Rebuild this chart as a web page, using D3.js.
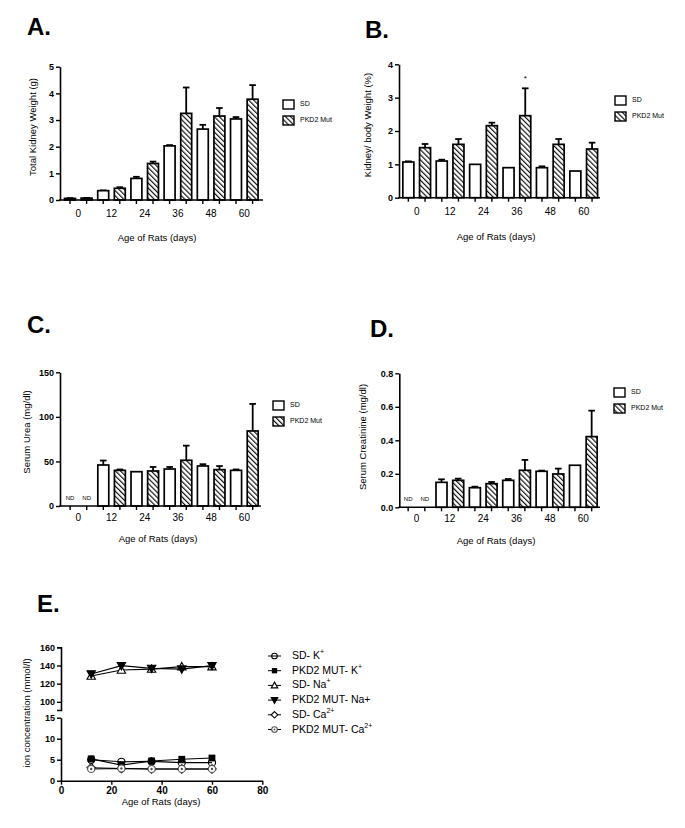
<!DOCTYPE html>
<html><head><meta charset="utf-8">
<script src="https://cdn.jsdelivr.net/npm/d3@7"></script>
<style>
body{margin:0;background:#fff;}
svg{display:block;font-family:"Liberation Sans",Arial,Helvetica,sans-serif;}
</style></head>
<body><svg id="c" width="685" height="828"></svg>
<script>
// ---------- DATA ----------
const ages = ["0","12","24","36","48","60"];
const seriesNames = ["SD","PKD2 Mut"];

const kidneySD      = [0.06, 0.35, 0.81, 2.03, 2.66, 3.04];
const kidneySDErr   = [0.01, 0.01, 0.06, 0.03, 0.16, 0.07];
const kidneyPKD     = [0.07, 0.44, 1.37, 3.25, 3.15, 3.78];
const kidneyPKDErr  = [0.01, 0.04, 0.07, 0.97, 0.30, 0.53];

const ratioSD       = [1.07, 1.10, 1.00, 0.90, 0.90, 0.80];
const ratioSDErr    = [0.02, 0.04, 0.00, 0.00, 0.04, 0.00];
const ratioPKD      = [1.50, 1.60, 2.16, 2.46, 1.60, 1.46];
const ratioPKDErr   = [0.11, 0.16, 0.09, 0.82, 0.16, 0.19];

const ureaSD        = [null, 46.0, 38.5, 41.5, 44.9, 40.0];
const ureaSDErr     = [null, 5.0, 0.0, 2.3, 2.0, 1.0];
const ureaPKD       = [null, 40.0, 39.3, 51.3, 40.8, 84.2];
const ureaPKDErr    = [null, 1.0, 4.5, 16.4, 4.0, 30.3];

const creatSD       = [null, 0.149, 0.117, 0.161, 0.215, 0.251];
const creatSDErr    = [null, 0.018, 0.006, 0.008, 0.004, 0.000];
const creatPKD      = [null, 0.161, 0.141, 0.221, 0.199, 0.422];
const creatPKDErr   = [null, 0.010, 0.010, 0.062, 0.032, 0.155];

const ionAges = [12, 24, 36, 48, 60];
const sdK    = [5.0, 4.5, 4.6, 4.3, 4.3];
const pkdK   = [5.2, 3.7, 4.7, 5.1, 5.4];
const sdNa   = [128.4, 135.0, 136.0, 138.7, 138.7];
const pkdNa  = [130.6, 139.8, 136.8, 136.0, 139.8];
const sdCa   = [3.1, 2.9, 2.8, 2.8, 2.8];
const pkdCa  = [2.8, 2.9, 2.8, 2.8, 2.8];

const ionLabels = [
  ["SD- K", "+"],
  ["PKD2 MUT- K", "+"],
  ["SD- Na", "+"],
  ["PKD2 MUT- Na+", ""],
  ["SD- Ca", "2+"],
  ["PKD2 MUT- Ca", "2+"]
];

// ---------- DRAW ----------
const svg = d3.select("#c");
const defs = svg.append("defs");
const pat = defs.append("pattern").attr("id","hatch").attr("patternUnits","userSpaceOnUse")
  .attr("width",3.6).attr("height",10).attr("patternTransform","rotate(-45)");
pat.append("rect").attr("width",3.6).attr("height",10).attr("fill","#fff");
pat.append("line").attr("x1",0.6).attr("y1",0).attr("x2",0.6).attr("y2",10)
  .attr("stroke","#000").attr("stroke-width",1.1);

function styleAxis(g, fs, bold){
  g.select(".domain").attr("stroke","#000").attr("stroke-width",1.6);
  g.selectAll(".tick line").attr("stroke","#000").attr("stroke-width",1.4);
  g.selectAll(".tick text").attr("fill","#000").style("font-size",fs+"px")
   .style("font-weight",bold?"bold":"normal").style("font-family","'Liberation Sans',Arial,sans-serif");
}

function barPanel(c){
  const g = svg.append("g");
  g.append("text").attr("x",c.title[1]).attr("y",c.title[2]).text(c.title[0])
    .style("font-size","24px").style("font-weight","bold");
  const outer = d3.scaleBand().domain(ages).range(c.xr).padding(0);
  const inner = d3.scaleBand().domain(seriesNames).range([0,outer.bandwidth()])
    .paddingInner(0.34).paddingOuter(0.17);
  const y = d3.scaleLinear().domain([0,c.ymax]).range([c.y0,c.ytop]);

  const rows = [];
  ages.forEach((a,i)=>{
    rows.push({age:a,s:"SD",v:c.sd[i],e:c.sdE[i]});
    rows.push({age:a,s:"PKD2 Mut",v:c.pkd[i],e:c.pkdE[i]});
  });
  const bx = d=>outer(d.age)+inner(d.s);
  const bw = inner.bandwidth();
  const valid = rows.filter(d=>d.v!=null);

  const eg = g.append("g").attr("stroke","#000").attr("stroke-width",1.8);
  valid.filter(d=>d.e>0.0001).forEach(d=>{
    const cx = bx(d)+bw/2;
    eg.append("line").attr("x1",cx).attr("x2",cx).attr("y1",y(d.v)).attr("y2",y(d.v+d.e));
    eg.append("line").attr("x1",cx-bw*0.3).attr("x2",cx+bw*0.3).attr("y1",y(d.v+d.e)).attr("y2",y(d.v+d.e));
  });
  g.append("g").selectAll("rect").data(valid).join("rect")
    .attr("x",bx).attr("width",bw)
    .attr("y",d=>y(d.v)).attr("height",d=>y(0)-y(d.v))
    .attr("fill",d=>d.s==="SD"?"#fff":"url(#hatch)")
    .attr("stroke","#000").attr("stroke-width",1.7);

  rows.filter(d=>d.v==null).forEach(d=>{
    g.append("text").attr("x",bx(d)+bw/2).attr("y",c.y0-6).attr("text-anchor","middle")
      .style("font-size","6px").text("ND");
  });
  if(c.star!=null){
    const d = rows[c.star];
    g.append("text").attr("x",bx(d)+bw/2).attr("y",y(d.v+d.e)-7).attr("text-anchor","middle")
      .style("font-size","8px").text("*");
  }

  const ya = g.append("g").attr("transform",`translate(${c.ax},0)`)
    .call(d3.axisLeft(y).tickValues(c.yticks).tickFormat(c.yfmt).tickSize(4).tickSizeOuter(0).tickPadding(2));
  styleAxis(ya,9,true);
  g.append("line").attr("x1",c.ax-0.8).attr("x2",c.axEnd).attr("y1",c.y0).attr("y2",c.y0)
    .attr("stroke","#000").attr("stroke-width",1.6);
  const barKeys = rows.map(d=>d.age+"|"+d.s);
  const bars = d3.scaleBand().domain(barKeys).range(c.xr).paddingInner(0.34).paddingOuter(0.17);
  const xt = g.append("g").attr("transform",`translate(0,${c.y0})`)
    .call(d3.axisBottom(bars).tickFormat("").tickSize(4).tickSizeOuter(0));
  xt.select(".domain").remove();
  styleAxis(xt,10,false);
  const xl = g.append("g").attr("transform",`translate(0,${c.y0})`)
    .call(d3.axisBottom(outer).tickSize(0).tickPadding(c.xpad));
  xl.select(".domain").remove();
  styleAxis(xl,10,false);

  g.append("text").attr("x",c.xlab[0]).attr("y",c.xlab[1]).attr("text-anchor","middle")
    .attr("dominant-baseline","middle").style("font-size","9.5px").text("Age of Rats (days)");
  g.append("text").attr("transform",`translate(${c.ylab[0]},${c.ylab[1]}) rotate(-90)`)
    .attr("text-anchor","middle").attr("dominant-baseline","middle")
    .style("font-size","9.5px").text(c.ylab[2]);

  seriesNames.forEach((s,i)=>{
    const ly = c.leg[1] + i*16;
    g.append("rect").attr("x",c.leg[0]).attr("y",ly).attr("width",11).attr("height",9)
      .attr("fill",i===0?"#fff":"url(#hatch)").attr("stroke","#000").attr("stroke-width",1.4);
    g.append("text").attr("x",c.leg[0]+17).attr("y",ly+4.5).attr("dominant-baseline","middle")
      .attr("fill","#000").style("font-size","7px").text(s);
  });
}

barPanel({title:["A.",27,35], xr:[61.7,260.9], ax:60, axEnd:263, y0:200, ytop:66.7, ymax:5,
  yticks:[0,1,2,3,4,5], yfmt:d3.format("d"), sd:kidneySD, sdE:kidneySDErr, pkd:kidneyPKD, pkdE:kidneyPKDErr,
  xpad:10, xlab:[157,238], ylab:[33,127,"Total Kidney Weight (g)"], leg:[283,100]});
barPanel({title:["B.",365,38], xr:[400,600.4], ax:399, axEnd:600, y0:197.7, ytop:64.3, ymax:4,
  yticks:[0,1,2,3,4], yfmt:d3.format("d"), sd:ratioSD, sdE:ratioSDErr, pkd:ratioPKD, pkdE:ratioPKDErr,
  xpad:10.5, xlab:[496,237], ylab:[368,125,"Kidney/ body Weight (%)"], leg:[615,96], star:7});
barPanel({title:["C.",27,333], xr:[61.8,261], ax:60, axEnd:261, y0:506, ytop:372.3, ymax:150,
  yticks:[0,50,100,150], yfmt:d3.format("d"), sd:ureaSD, sdE:ureaSDErr, pkd:ureaPKD, pkdE:ureaPKDErr,
  xpad:8, xlab:[158,539], ylab:[27,432,"Serum Urea (mg/dl)"], leg:[273,401]});
barPanel({title:["D.",370,337], xr:[399.8,600], ax:399.3, axEnd:600, y0:507.3, ytop:373.3, ymax:0.8,
  yticks:[0,0.2,0.4,0.6,0.8], yfmt:d3.format(".1f"), sd:creatSD, sdE:creatSDErr, pkd:creatPKD, pkdE:creatPKDErr,
  xpad:8, xlab:[496,541], ylab:[363,437,"Serum Creatinine (mg/dl)"], leg:[614,388]});

// ---------- Panel E ----------
(function(){
  const g = svg.append("g");
  g.append("text").attr("x",37).attr("y",612).text("E.").style("font-size","24px").style("font-weight","bold");
  const x = d3.scaleLinear().domain([0,80]).range([61,262.3]);
  const yHi = d3.scaleLinear().domain([91,160]).range([710,647.3]);
  const yLo = d3.scaleLinear().domain([0,15]).range([780.7,717.7]);
  const yOf = v => v>50 ? yHi(v) : yLo(v);

  const series = [
    {vals:sdK, sym:"circle", fill:"none", stroke:"#000"},
    {vals:pkdK, sym:"square", fill:"#000", stroke:"#000"},
    {vals:sdNa, sym:"triangle", fill:"#fff", stroke:"#000"},
    {vals:pkdNa, sym:"triDown", fill:"#000", stroke:"#000"},
    {vals:sdCa, sym:"diamond", fill:"#fff", stroke:"#000"},
    {vals:pkdCa, sym:"dotCircle", fill:"#fff", stroke:"#555"}
  ];
  function marker(sel, s, cx, cy, k){
    const mg = sel.append("g").attr("transform",`translate(${cx},${cy}) scale(${k})`);
    const sw = 1.1/k;
    if(s.sym==="circle"){
      mg.append("circle").attr("r",3.6).attr("fill",s.fill).attr("stroke",s.stroke).attr("stroke-width",sw);
    } else if(s.sym==="square"){
      mg.append("rect").attr("x",-3.4).attr("y",-3.4).attr("width",6.8).attr("height",6.8).attr("fill",s.fill);
    } else if(s.sym==="triangle"){
      mg.append("path").attr("d","M0,-4.2L4.2,3.2L-4.2,3.2Z").attr("fill",s.fill).attr("stroke",s.stroke).attr("stroke-width",sw);
    } else if(s.sym==="triDown"){
      mg.append("path").attr("d","M0,4.2L4.2,-3.2L-4.2,-3.2Z").attr("fill",s.fill).attr("stroke",s.stroke).attr("stroke-width",sw);
    } else if(s.sym==="diamond"){
      mg.append("path").attr("d","M0,-4.2L4.2,0L0,4.2L-4.2,0Z").attr("fill",s.fill).attr("stroke",s.stroke).attr("stroke-width",sw);
    } else {
      mg.append("circle").attr("r",3.6).attr("fill",s.fill).attr("stroke",s.stroke).attr("stroke-width",sw);
      mg.append("circle").attr("r",1.2).attr("fill",s.stroke);
    }
  }
  const line = d3.line();
  series.forEach(s=>{
    const pts = ionAges.map((a,i)=>[x(a), yOf(s.vals[i])]);
    g.append("path").attr("d",line(pts)).attr("fill","none").attr("stroke","#000").attr("stroke-width",1.1);
  });
  series.forEach(s=>{
    ionAges.forEach((a,i)=>marker(g,s,x(a),yOf(s.vals[i]),1));
  });

  const xa = g.append("g").attr("transform","translate(0,780.7)")
    .call(d3.axisBottom(x).tickValues([0,20,40,60,80]).tickSize(4).tickSizeOuter(0).tickPadding(2));
  styleAxis(xa,10,true);
  const yah = g.append("g").attr("transform","translate(61,0)")
    .call(d3.axisLeft(yHi).tickValues([100,120,140,160]).tickSize(4).tickSizeOuter(4).tickPadding(2));
  styleAxis(yah,9,true);
  const yal = g.append("g").attr("transform","translate(61,0)")
    .call(d3.axisLeft(yLo).tickValues([0,5,10,15]).tickSize(4).tickSizeOuter(0).tickPadding(2));
  styleAxis(yal,9,true);

  g.append("text").attr("x",161).attr("y",802).attr("text-anchor","middle").attr("dominant-baseline","middle")
    .style("font-size","9.5px").text("Age of Rats (days)");
  g.append("text").attr("transform","translate(27,713) rotate(-90)").attr("text-anchor","middle")
    .attr("dominant-baseline","middle").style("font-size","9.5px").text("ion concentration (mmol/l)");

  const lg = g.append("g");
  series.forEach((s,i)=>{
    const ly = 656 + i*14.7;
    lg.append("line").attr("x1",268).attr("x2",281).attr("y1",ly).attr("y2",ly).attr("stroke","#000").attr("stroke-width",1);
    marker(lg,s,274.5,ly,0.78);
    const t = lg.append("text").attr("x",292).attr("y",ly).attr("dominant-baseline","middle").style("font-size","10.5px");
    t.append("tspan").text(ionLabels[i][0]);
    if(ionLabels[i][1]) t.append("tspan").attr("dy",-4).style("font-size","7px").text(ionLabels[i][1]);
  });
})();
</script></body></html>
